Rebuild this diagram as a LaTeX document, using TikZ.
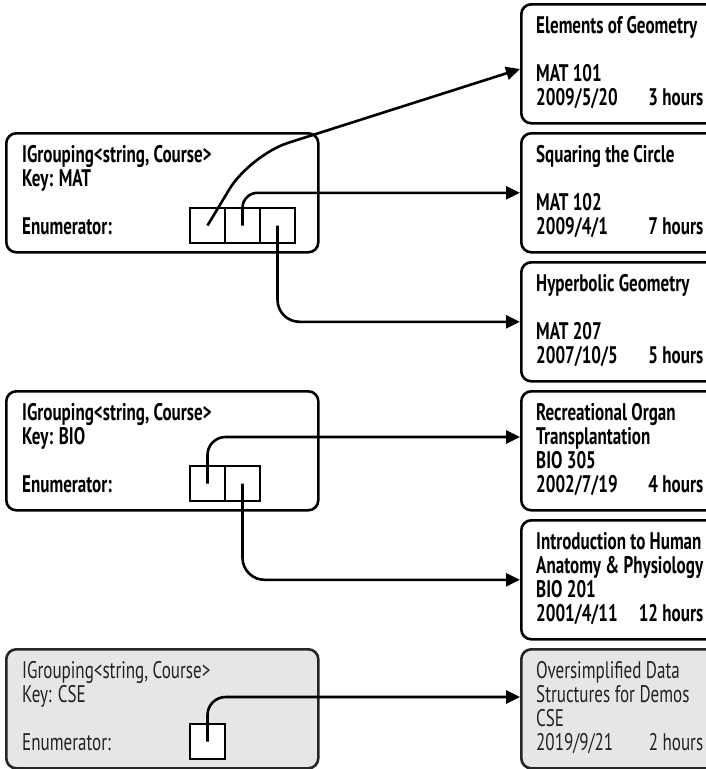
\documentclass[tikz,border=0pt]{standalone}
\usepackage{fontspec}
\setmainfont{PT Sans}[FakeStretch=0.71]
\usetikzlibrary{arrows.meta,calc}

\definecolor{paleFill}{HTML}{E6E6E6}
\definecolor{paleText}{HTML}{222222}

\begin{document}
\begin{tikzpicture}[x=1pt,y=-1pt,
  card/.style={draw=black, line width=2.6pt, rounded corners=10pt, fill=white,
               anchor=north west, inner sep=0pt, minimum height=119pt},
  groupcard/.style={card, minimum width=312pt},
  coursecard/.style={card, minimum width=210pt},
  greycard/.style={fill=paleFill, draw=black!85},
  slot/.style={draw=black, line width=2.2pt, fill=white, minimum size=35pt, inner sep=0pt},
  label/.style={anchor=base west, inner sep=0pt, font=\fontsize{24pt}{24pt}\selectfont\bfseries},
  greylabel/.style={label, font=\fontsize{24pt}{24pt}\selectfont, text=paleText},
  link/.style={draw=black, line width=2.6pt, -{Triangle[length=14pt,width=13pt]}}
]
\fill[white] (0,0) rectangle (706,769);
\useasboundingbox (0,0) rectangle (706,769);
\clip (0,0) rectangle (706,769);

% one line of a course card: date on the left, duration flush right
\newcommand\dateline[2]{\makebox[167pt][l]{#1\hfill #2}}

% ---- course cards (right column) ----
\node[coursecard] (elem)  at (520,3)   {};
\node[coursecard] (sq)    at (520,132) {};
\node[coursecard] (hyp)   at (520,261) {};
\node[coursecard] (rec)   at (520,390) {};
\node[coursecard] (intro) at (520,519) {};
\node[coursecard, greycard] (cse) at (520,648) {};

\node[label] (elemtxt) at (536,33) {\parbox[t]{240pt}{Elements of Geometry\\[24pt]MAT 101\\\dateline{2009/5/20}{3 hours}}};
\node[label] (sqtxt) at (536,162) {\parbox[t]{240pt}{Squaring the Circle\\[24pt]MAT 102\\\dateline{2009/4/1}{7 hours}}};
\node[label] (hyptxt) at (536,291) {\parbox[t]{240pt}{Hyperbolic Geometry\\[24pt]MAT 207\\\dateline{2007/10/5}{5 hours}}};
\node[label] (rectxt) at (536,420) {\parbox[t]{240pt}{Recreational Organ\\Transplantation\\BIO 305\\\dateline{2002/7/19}{4 hours}}};
\node[label] (introtxt) at (536,549) {\parbox[t]{240pt}{Introduction to Human\\Anatomy \& Physiology\\BIO 201\\\dateline{2001/4/11}{12 hours}}};
\node[greylabel] (csetxt) at (536,678) {\parbox[t]{240pt}{Oversimplified Data\\Structures for Demos\\CSE\\\dateline{2019/9/21}{2 hours}}};

% ---- grouping cards (left column) ----
\node[groupcard] (mat) at (5,132) {};
\node[groupcard] (bio) at (5,390) {};
\node[groupcard, greycard] (cs) at (5,648) {};

\node[label] (mattxt) at (22,162) {\parbox[t]{280pt}{IGrouping<string, Course>\\Key: MAT\\[24pt]Enumerator:}};
\node[label] (biotxt) at (22,420) {\parbox[t]{280pt}{IGrouping<string, Course>\\Key: BIO\\[24pt]Enumerator:}};
\node[greylabel] (cstxt) at (22,678) {\parbox[t]{280pt}{IGrouping<string, Course>\\Key: CSE\\[24pt]Enumerator:}};

% ---- enumerator slots ----
\node[slot] (m1) at (207.5,225.5) {};
\node[slot] (m2) at (242.5,225.5) {};
\node[slot] (m3) at (277.5,225.5) {};
\node[slot] (b1) at (207.5,483.5) {};
\node[slot] (b2) at (242.5,483.5) {};
\node[slot] (c1) at (207.5,741.5) {};

% ---- connectors ----
\coordinate (bend) at (250,155);
\coordinate (elemin) at ($(elem.north west)+(0,66)$);
\coordinate (recin) at ($(rec.north west)+(0,47)$);
\coordinate (csein) at ($(cse.north west)+(0,49)$);

\draw[link, rounded corners=40pt] (m1.center) -- (bend) -- (elemin);
\draw[link, rounded corners=15pt] (m2.center) |- (sq.west);
\draw[link, rounded corners=22pt] (m3.center) |- (hyp.west);
\draw[link, rounded corners=18pt] (b1.center) |- (recin);
\draw[link, rounded corners=22pt] (b2.center) |- (intro.west);
\draw[link, rounded corners=18pt] (c1.center) |- (csein);
\end{tikzpicture}
\end{document}
